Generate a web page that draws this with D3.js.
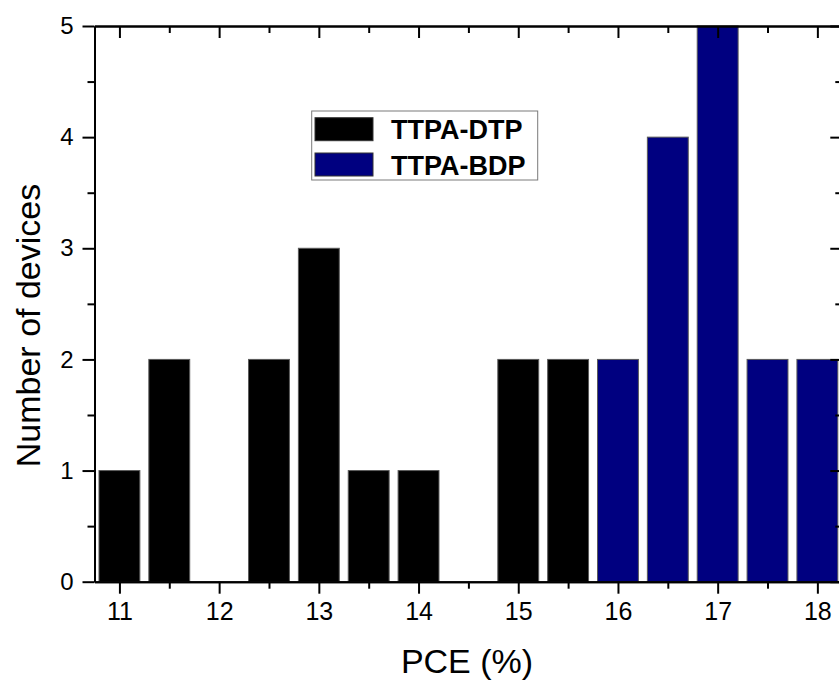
<!DOCTYPE html>
<html>
<head>
<meta charset="utf-8">
<script src="https://cdn.jsdelivr.net/npm/d3@7"></script>
<style>
  html, body { margin: 0; padding: 0; background: #fff; }
  svg { display: block; }
  text { font-family: Arial, "Liberation Sans", sans-serif; fill: #000; }
</style>
</head>
<body>
<svg id="chart" width="839" height="682"></svg>
<script>
// ---- data ----
const dtpBins   = [11, 11.5, 12, 12.5, 13, 13.5, 14, 14.5, 15, 15.5];
const dtpCounts = [1, 2, 0, 2, 3, 1, 1, 0, 2, 2];
const bdpBins   = [16, 16.5, 17, 17.5, 18];
const bdpCounts = [2, 4, 5, 2, 2];
const seriesNames = ["TTPA-DTP", "TTPA-BDP"];
const xMajorTicks = [11, 12, 13, 14, 15, 16, 17, 18];
const xMinorTicks = [11.5, 12.5, 13.5, 14.5, 15.5, 16.5, 17.5];
const yMajorTicks = [0, 1, 2, 3, 4, 5];
const yMinorTicks = [0.5, 1.5, 2.5, 3.5, 4.5];
const xTitle = "PCE (%)";
const yTitle = "Number of devices";

// ---- layout ----
const svg = d3.select("#chart");
const mLeft = 94.5, mRight = 842.3, mTop = 26, mBottom = 581.7;
const x = d3.scaleLinear().domain([10.75, 18.25]).range([mLeft, mRight]);
const y = d3.scaleLinear().domain([0, 5]).range([mBottom, mTop]);
const barW = 0.41;
const colors = ["#000000", "#000080"];

const dtp = dtpBins.map((b, i) => ({ bin: b, n: dtpCounts[i] }));
const bdp = bdpBins.map((b, i) => ({ bin: b, n: bdpCounts[i] }));

function drawBars(data, color) {
  svg.append("g").selectAll("rect").data(data.filter(d => d.n > 0)).join("rect")
    .attr("x", d => x(d.bin - barW / 2))
    .attr("width", d => x(d.bin + barW / 2) - x(d.bin - barW / 2))
    .attr("y", d => y(d.n))
    .attr("height", d => y(0) - y(d.n))
    .attr("fill", color)
    .attr("stroke", "#5a5a5a")
    .attr("stroke-width", 1);
}
drawBars(dtp, colors[0]);
drawBars(bdp, colors[1]);

// ---- axes ----
function styleAxis(g) {
  g.selectAll("path.domain").attr("stroke", "#000").attr("stroke-width", 2);
  g.selectAll(".tick line").attr("stroke", "#000").attr("stroke-width", 2);
}
// bottom
const gb = svg.append("g").attr("transform", `translate(0,${mBottom})`)
  .call(d3.axisBottom(x).tickValues(xMajorTicks).tickSize(12).tickSizeOuter(0).tickPadding(9).tickFormat(d3.format("d")));
gb.selectAll("text").attr("font-size", 25).style("font-family", "Arial, 'Liberation Sans', sans-serif");
styleAxis(gb);
const gbm = svg.append("g").attr("transform", `translate(0,${mBottom})`)
  .call(d3.axisBottom(x).tickValues(xMinorTicks).tickSize(7).tickSizeOuter(0).tickFormat(""));
styleAxis(gbm);
// top
const gt = svg.append("g").attr("transform", `translate(0,${mTop})`)
  .call(d3.axisTop(x).tickValues(xMajorTicks).tickSize(-12).tickSizeOuter(0).tickFormat(""));
styleAxis(gt);
const gtm = svg.append("g").attr("transform", `translate(0,${mTop})`)
  .call(d3.axisTop(x).tickValues(xMinorTicks).tickSize(-7).tickSizeOuter(0).tickFormat(""));
styleAxis(gtm);
// left
const gl = svg.append("g").attr("transform", `translate(${mLeft},0)`)
  .call(d3.axisLeft(y).tickValues(yMajorTicks).tickSize(12).tickSizeOuter(0).tickPadding(9).tickFormat(d3.format("d")));
gl.selectAll("text").attr("font-size", 24).style("font-family", "Arial, 'Liberation Sans', sans-serif");
styleAxis(gl);
const glm = svg.append("g").attr("transform", `translate(${mLeft},0)`)
  .call(d3.axisLeft(y).tickValues(yMinorTicks).tickSize(7).tickSizeOuter(0).tickFormat(""));
styleAxis(glm);
// right
const gr = svg.append("g").attr("transform", `translate(${mRight},0)`)
  .call(d3.axisRight(y).tickValues(yMajorTicks).tickSize(-12).tickSizeOuter(0).tickFormat(""));
styleAxis(gr);
const grm = svg.append("g").attr("transform", `translate(${mRight},0)`)
  .call(d3.axisRight(y).tickValues(yMinorTicks).tickSize(-7).tickSizeOuter(0).tickFormat(""));
styleAxis(grm);

// ---- titles ----
svg.append("text")
  .attr("x", (mLeft + 837.5) / 2 + 1).attr("y", 673)
  .attr("text-anchor", "middle").attr("font-size", 34)
  .text(xTitle);
svg.append("text")
  .attr("transform", "translate(40,325.5) rotate(-90)")
  .attr("text-anchor", "middle").attr("font-size", 34)
  .text(yTitle);

// ---- legend ----
const lg = svg.append("g");
lg.append("rect").attr("x", 311.7).attr("y", 111).attr("width", 226).attr("height", 69)
  .attr("fill", "#fff").attr("stroke", "#7a7a7a").attr("stroke-width", 1);
seriesNames.forEach((name, i) => {
  const yy = 117.7 + i * 35.3;
  lg.append("rect").attr("x", 315).attr("y", yy).attr("width", 58).attr("height", 23)
    .attr("fill", colors[i]).attr("stroke", "#333").attr("stroke-width", 1);
  lg.append("text").attr("x", 391).attr("y", yy + 21.5)
    .attr("font-size", 27).attr("font-weight", "bold")
    .text(name);
});
</script>
</body>
</html>
